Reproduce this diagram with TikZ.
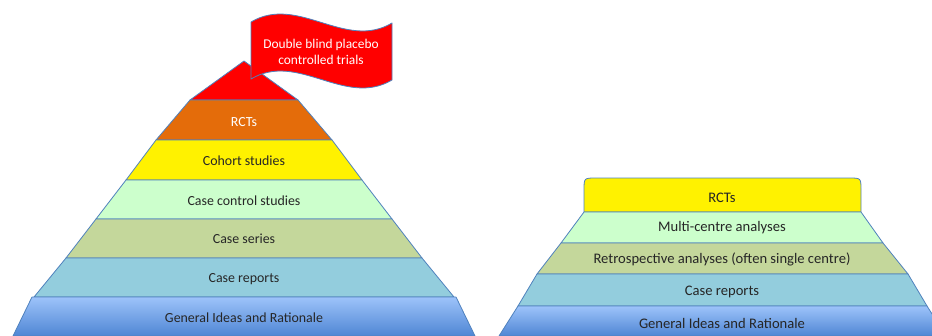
\documentclass[tikz,border=0pt]{standalone}
\usepackage{fontspec}
\setmainfont{Carlito}
\definecolor{edgeblue}{HTML}{4F81BD}
\definecolor{rctorange}{HTML}{E46C0A}
\definecolor{mintgreen}{HTML}{CCFFCC}
\definecolor{olivegreen}{HTML}{C4D79B}
\definecolor{paleblue}{HTML}{93CDDD}
\definecolor{gentop}{HTML}{9DC3FA}
\definecolor{genbottom}{HTML}{4F86D4}

\begin{document}
\begin{tikzpicture}[x=1pt,y=-1pt,
    layer/.style={draw=edgeblue,line width=0.8pt,line join=round},
    general/.style={layer,top color=gentop,bottom color=genbottom},
    lbl/.style={font=\fontsize{13.9}{16}\selectfont,text=black!85},
    rlbl/.style={font=\fontsize{14.6}{17}\selectfont,text=black!85},
    flagtxt/.style={font=\fontsize{13.4}{16}\selectfont,text=white,align=center}]
        \useasboundingbox (0,0) rectangle (932,335);
        \clip (0,0) rectangle (932,335);

        % left pyramid
        \coordinate (apex) at (244,61);

        \draw[layer,fill=red]        (apex) -- (298,100) -- (190,100) -- cycle;
        \draw[layer,fill=rctorange]  (190,100) -- (298,100) -- (332,140) -- (156,140) -- cycle;
        \draw[layer,fill=yellow]     (156,140) -- (332,140) -- (362,180) -- (126,180) -- cycle;
        \draw[layer,fill=mintgreen]  (126,180) -- (362,180) -- (392,219) -- (96,219) -- cycle;
        \draw[layer,fill=olivegreen] (96,219) -- (392,219) -- (422,258) -- (66,258) -- cycle;
        \draw[layer,fill=paleblue]   (66,258) -- (422,258) -- (454,297) -- (34,297) -- cycle;
        \draw[general]               (32,297) -- (456,297) -- (475,336) -- (13,336) -- cycle;

        \node[lbl,text=white] (lrct)    at (244,122) {RCTs};
        \node[lbl]            (lcohort) at (244,161) {Cohort studies};
        \node[lbl]            (lcontrol) at (244,201) {Case control studies};
        \node[lbl]            (lseries) at (244,239) {Case series};
        \node[lbl]            (lreport) at (244,279) {Case reports};
        \node[lbl]            (lgeneral) at (244,318) {General Ideas and Rationale};

        % flag on top
        \draw[layer,fill=red] (251,22) .. controls (298,-6) and (345,51) .. (392,23)
              -- (392,80) .. controls (345,108) and (298,51) .. (251,79) -- cycle;
        \node[flagtxt] (flag) at (321,52) {Double blind placebo\\controlled trials};

        % right pyramid
        \draw[layer,fill=yellow]     (584,212) -- (584,190) .. controls (584,178) .. (596,178)
              -- (849,178) .. controls (861,178) .. (861,190) -- (861,212) -- cycle;
        \draw[layer,fill=mintgreen]  (584,212) -- (861,212) -- (883,243) -- (561,243) -- cycle;
        \draw[layer,fill=olivegreen] (561,243) -- (883,243) -- (908,274) -- (537,274) -- cycle;
        \draw[layer,fill=paleblue]   (537,274) -- (908,274) -- (927,306) -- (518,306) -- cycle;
        \draw[general]               (518,306) -- (927,306) -- (946,336) -- (499,336) -- cycle;

        \node[rlbl] (rrct)     at (722,198) {RCTs};
        \node[rlbl] (rmulti)   at (722,228) {Multi-centre analyses};
        \node[rlbl] (rretro)   at (722,259) {Retrospective analyses (often single centre)};
        \node[rlbl] (rreport)  at (722,292) {Case reports};
        \node[rlbl] (rgeneral) at (722,323) {General Ideas and Rationale};
    \end{tikzpicture}
\end{document}
